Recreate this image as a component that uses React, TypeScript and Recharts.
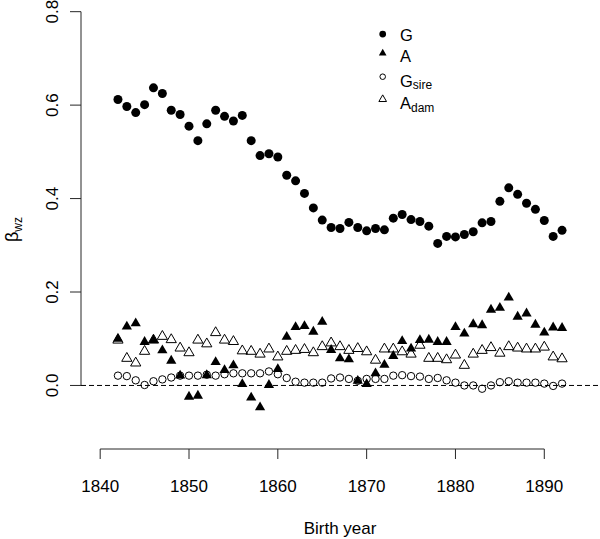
import React from "react";
import { ScatterChart, Scatter, XAxis, YAxis, ReferenceLine, Legend } from "recharts";

// birth cohorts
const years = [
  1842, 1843, 1844, 1845, 1846, 1847, 1848, 1849, 1850, 1851,
  1852, 1853, 1854, 1855, 1856, 1857, 1858, 1859, 1860, 1861,
  1862, 1863, 1864, 1865, 1866, 1867, 1868, 1869, 1870, 1871,
  1872, 1873, 1874, 1875, 1876, 1877, 1878, 1879, 1880, 1881,
  1882, 1883, 1884, 1885, 1886, 1887, 1888, 1889, 1890, 1891, 1892,
];

const gVals = [
  0.612, 0.597, 0.584, 0.601, 0.637, 0.625, 0.589, 0.58, 0.555, 0.524,
  0.56, 0.589, 0.576, 0.566, 0.578, 0.524, 0.492, 0.496, 0.489, 0.45,
  0.438, 0.411, 0.38, 0.354, 0.338, 0.336, 0.349, 0.338, 0.331, 0.336,
  0.333, 0.358, 0.366, 0.355, 0.351, 0.341, 0.304, 0.319, 0.318, 0.323,
  0.329, 0.348, 0.351, 0.394, 0.423, 0.409, 0.39, 0.377, 0.353, 0.319, 0.332,
];

const aVals = [
  0.1, 0.126, 0.133, 0.093, 0.097, 0.075, 0.053, 0.021, -0.024, -0.022,
  0.022, 0.05, 0.033, 0.043, 0.003, -0.026, -0.047, 0.001, 0.035, 0.104,
  0.125, 0.127, 0.115, 0.136, 0.076, 0.058, 0.056, 0.01, 0.003, 0.026,
  0.044, 0.063, 0.095, 0.079, 0.097, 0.098, 0.093, 0.093, 0.125, 0.111,
  0.131, 0.129, 0.162, 0.166, 0.188, 0.147, 0.154, 0.13, 0.113, 0.124, 0.123,
];

const gSireVals = [
  0.021, 0.02, 0.011, 0.001, 0.009, 0.013, 0.017, 0.021, 0.021, 0.021,
  0.023, 0.021, 0.024, 0.026, 0.026, 0.026, 0.026, 0.03, 0.024, 0.016,
  0.008, 0.006, 0.006, 0.006, 0.015, 0.017, 0.014, 0.01, 0.014, 0.014,
  0.014, 0.021, 0.022, 0.02, 0.019, 0.014, 0.016, 0.011, 0.006, 0.0,
  0.0, -0.007, 0.0, 0.007, 0.009, 0.006, 0.006, 0.006, 0.004, -0.001, 0.004,
];

const aDamVals = [
  0.097, 0.058, 0.048, 0.073, 0.097, 0.105, 0.098, 0.08, 0.07, 0.097,
  0.089, 0.113, 0.097, 0.094, 0.074, 0.073, 0.067, 0.078, 0.061, 0.073,
  0.075, 0.077, 0.07, 0.083, 0.091, 0.083, 0.075, 0.079, 0.072, 0.054,
  0.078, 0.078, 0.072, 0.067, 0.086, 0.058, 0.058, 0.055, 0.065, 0.043,
  0.067, 0.075, 0.081, 0.069, 0.083, 0.08, 0.078, 0.078, 0.082, 0.061, 0.057,
];

const xTicks = [1840, 1850, 1860, 1870, 1880, 1890];
const yTicks = [0, 0.2, 0.4, 0.6, 0.8];

const seriesNames = ["G", "A", "G", "A"];
const seriesSubs = ["", "", "sire", "dam"];

const FONT = '"Liberation Sans", Arial, Helvetica, sans-serif';
const INK = "#000";
const AXIS = "#262626";

const X_MIN = 1837.84;
const X_MAX = 1896.16;
const Y_MIN = -0.136;
const Y_MAX = 0.825;

const toPoints = (vals: number[]) => years.map((year, i) => ({ year, v: vals[i] }));

// R-style triangle (pch 2 / 17)
function triPath(cx: number, cy: number, r: number) {
  return `M${cx},${cy - 1.5551 * r}L${cx + 1.3468 * r},${cy + 0.7776 * r}L${cx - 1.3468 * r},${cy + 0.7776 * r}Z`;
}

function marker(kind: number, cx: number, cy: number, s = 1) {
  if (kind === 0) return <circle cx={cx} cy={cy} r={4.5 * s} fill={INK} />;
  if (kind === 1) return <path d={triPath(cx, cy, 3.8 * s)} fill={INK} />;
  if (kind === 2) return <circle cx={cx} cy={cy} r={3.7 * s} fill="none" stroke={INK} strokeWidth={1} />;
  return <path d={triPath(cx, cy, 3.8 * s)} fill="none" stroke={INK} strokeWidth={1} />;
}

const shapeFor = (kind: number) => (p: any) => marker(kind, p.cx, p.cy);

function LegendBox() {
  const symY = [34, 53.3, 76.7, 99.3];
  const baseY = [40.7, 61.7, 86.7, 109.3];
  return (
    <svg width={120} height={100} style={{ overflow: "visible" }}>
      <g transform="translate(-360,-20)" fontFamily={FONT} fill={INK}>
        {seriesNames.map((name, i) => (
          <g key={i}>
            {marker(i, 382.7, symY[i], 0.75)}
            <text x={400} y={baseY[i]} fontSize={16.5}>
              {name}
              {seriesSubs[i] ? (
                <tspan fontSize={12} dy={2.5}>{seriesSubs[i]}</tspan>
              ) : null}
            </text>
          </g>
        ))}
      </g>
    </svg>
  );
}

function YTick(props: any) {
  const { x, y, payload } = props;
  return (
    <text x={x} y={y} transform={`rotate(-90 ${x} ${y})`} textAnchor="middle"
      fontSize={17} fontFamily={FONT} fill={INK}>
      {Number(payload.value).toFixed(1)}
    </text>
  );
}

function YLabel(props: any) {
  const vb = props.viewBox || { y: 0, height: 449 };
  const cy = vb.y + vb.height / 2 + 5;
  const bx = 18;
  return (
    <text x={bx} y={cy} transform={`rotate(-90 ${bx} ${cy})`} textAnchor="middle"
      fontSize={18} fontFamily={FONT} fill={INK}>
      β<tspan fontSize={12} dy={4}>wz</tspan>
    </text>
  );
}

export default function App() {
  return (
    <div style={{ position: "absolute", left: 0, top: 0, width: 600, height: 539, background: "#fff" }}>
      <ScatterChart width={600} height={539} margin={{ top: 0, right: 1, bottom: 0, left: 0 }}>
        <XAxis type="number" dataKey="year" domain={[X_MIN, X_MAX]} ticks={xTicks} allowDataOverflow
          axisLine={false} tickLine={{ stroke: AXIS }} tickSize={10} tickMargin={21} height={90}
          tick={{ fontSize: 17, fill: INK, fontFamily: FONT }}
          label={{ value: "Birth year", position: "insideBottom", offset: 5, fontSize: 17, fill: INK, fontFamily: FONT }} />
        <YAxis type="number" dataKey="v" domain={[Y_MIN, Y_MAX]} ticks={yTicks} allowDataOverflow
          axisLine={false} tickLine={{ stroke: AXIS }} tickSize={11} tickMargin={12} width={81}
          tick={<YTick />} label={<YLabel />} />
        <ReferenceLine segment={[{ x: 1840, y: Y_MIN }, { x: 1890, y: Y_MIN }]} stroke={AXIS} ifOverflow="visible" />
        <ReferenceLine segment={[{ x: X_MIN, y: 0 }, { x: X_MIN, y: 0.8 }]} stroke={AXIS} ifOverflow="visible" />
        <ReferenceLine y={0} stroke={INK} strokeDasharray="5 3" />
        <Scatter data={toPoints(gVals)} shape={shapeFor(0)} isAnimationActive={false} />
        <Scatter data={toPoints(gSireVals)} shape={shapeFor(2)} isAnimationActive={false} />
        <Scatter data={toPoints(aDamVals)} shape={shapeFor(3)} isAnimationActive={false} />
        <Scatter data={toPoints(aVals)} shape={shapeFor(1)} isAnimationActive={false} />
        <Legend layout="vertical" align="center" verticalAlign="middle"
          wrapperStyle={{ left: 360, top: 20, width: 120, height: 100 }}
          content={() => <LegendBox />} />
      </ScatterChart>
    </div>
  );
}
